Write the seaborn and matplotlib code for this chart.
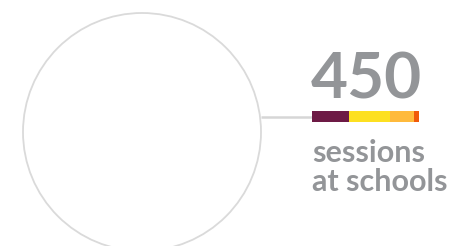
import numpy as np
import pandas as pd
import seaborn as sns
import matplotlib.pyplot as plt
from matplotlib.patches import Circle

# %% Data
total_label = "450"
caption = "sessions\nat schools"
segments = ["a", "b", "c", "d"]
segment_values = [155, 172, 101, 22]
segment_colors = ["#6d1a45", "#fde021", "#ffba3c", "#f05a0a"]

# %% Figure
sns.set_style("white")
plt.rcParams["font.family"] = ["Lato", "DejaVu Sans"]

W, H = 453, 246
fig = plt.figure(figsize=(W / 100, H / 100), dpi=100)
ax = fig.add_axes([0, 0, 1, 1])
ax.set_xlim(0, W)
ax.set_ylim(H, 0)
ax.axis("off")

grey = "#939598"
ax.add_patch(Circle((142, 132), 119, fill=False, ec="#dadada", lw=1.3))
ax.plot([261, 312], [117, 117], color="#d6d6d6", lw=1.8, solid_capstyle="butt")

ax.text(311, 98.5, total_label, fontsize=46, fontweight="bold", color=grey,
        ha="left", va="baseline")
ax.text(312, 191, caption, fontsize=22, fontweight="bold", color=grey,
        ha="left", va="baseline", linespacing=1.05)

# stacked bar
bax = fig.add_axes([312 / W, 1 - 122 / H, 107 / W, 11 / H])
df = pd.DataFrame({"seg": segments, "val": segment_values})
left = np.concatenate([[0], np.cumsum(df["val"])[:-1]])
bax.barh(0, df["val"], left=left, color=segment_colors, height=1, lw=0)
bax.set_xlim(0, df["val"].sum())
bax.set_ylim(-0.5, 0.5)
bax.axis("off")

fig.savefig("out.png", dpi=100)
